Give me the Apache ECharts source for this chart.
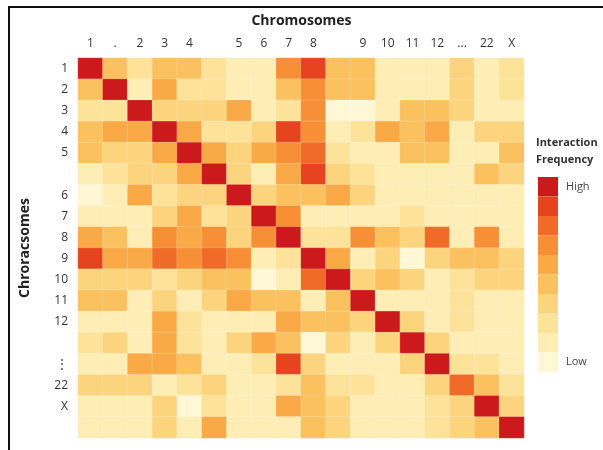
<!DOCTYPE html>
<html><head><meta charset="utf-8">
<script src="https://cdn.jsdelivr.net/npm/echarts@6/dist/echarts.min.js"></script>
<style>html,body{margin:0;padding:0;background:#fff}#c{width:603px;height:450px}</style>
</head><body><div id="c"></div>
<script>
// Tick labels (one entry per heatmap cell; blank = no label)
const xLabels = ['1','.','2','3','4','','5','6','7','8','','9','10','11','12','...','22','X'];
const yLabels = ['1','2','3','4','5','','6','7','8','9','10','11','12','','⋮','22','X',''];

// Interaction frequency (0-100), one array per row
const r01 = [95,45,25,45,45,25,15,15,65,85,45,45,15,15,15,35,15,25];
const r02 = [45,95,15,55,25,25,15,15,45,65,45,45,15,15,15,35,15,25];
const r03 = [25,25,95,35,35,35,55,15,25,65, 5, 5,15,45,45,35,15,15];
const r04 = [45,55,55,95,55,25,25,35,85,65,15,25,55,45,55,15,35,35];
const r05 = [45,35,35,55,95,55,35,55,65,75,25,15,15,45,45,15,15,45];
const r06 = [15,25,35,35,55,95,35,15,55,85,35,25,15,15,15,15,45,35];
const r07 = [ 5,15,55,25,35,35,95,35,45,45,55,35,15,15,15,15,15,15];
const r08 = [15,15,15,35,55,25,35,95,65,15,15,15,15,25,15,15,15,15];
const r09 = [55,45,15,65,55,65,35,65,95,25,25,65,45,35,75,15,65,15];
const r10 = [85,55,55,75,65,75,65,15,25,95,55,15,35, 5,35,45,45,35];
const r11 = [35,35,35,25,35,45,45, 5,15,75,95,35,45,35,15,25,35,35];
const r12 = [45,45,15,35,15,35,55,45,45,15,45,95,15,15,15,25,15,15];
const r13 = [15,15,15,55,25,15,15,15,55,45,45,35,95,35,15,25,15,15];
const r14 = [25,35,15,55,25,15,35,55,45, 5,35,15,35,95,35,15,15,15];
const r15 = [15,15,55,55,45,15,15,25,85,35,15,15,15,35,95,25,25,15];
const r16 = [35,35,35,15,25,35,15,15,25,45,25,25,15,15,35,75,45,25];
const r17 = [15,15,15,35, 5,25,15,15,55,45,35,15,15,15,25,35,95,35];
const r18 = [15,15,15,35,15,55,15,15,15,45,35,15,15,15,25,35,45,95];
const rows = [r01,r02,r03,r04,r05,r06,r07,r08,r09,r10,r11,r12,r13,r14,r15,r16,r17,r18];

const palette = ['#fff7d6','#feedb4','#fde29a','#fdd47e','#fcc15f','#faa947','#f78f37','#f06b28','#e5441f','#cc191c'];

const data = [];
rows.forEach((row, r) => row.forEach((v, c) => data.push([c, r, v])));

const font = 'Open Sans, Liberation Sans, Arial, sans-serif';
const chart = echarts.init(document.getElementById('c'));
chart.setOption({
  animation: false,
  textStyle: {fontFamily: font},
  title: [
    {text: 'Chromosomes', left: 'center', top: 9,
     textStyle: {fontSize: 14, fontWeight: 'bold', color: '#222', fontFamily: font}},
    {text: 'Interaction\nFrequency', left: 536, top: 134, padding: 0,
     textStyle: {fontSize: 11, fontWeight: 'bold', color: '#333', lineHeight: 17, fontFamily: font}}
  ],
  grid: {left: 78, top: 58, width: 446, height: 380},
  xAxis: {
    type: 'category', data: xLabels, position: 'top',
    axisLine: {show: false}, axisTick: {show: false}, splitLine: {show: false},
    axisLabel: {interval: 0, margin: 8, fontSize: 12, color: '#333'}
  },
  yAxis: {
    type: 'category', data: yLabels, inverse: true,
    name: 'Chroracsomes', nameLocation: 'middle', nameRotate: 90, nameGap: 46,
    nameTextStyle: {fontSize: 14, fontWeight: 'bold', color: '#222'},
    axisLine: {show: false}, axisTick: {show: false}, splitLine: {show: false},
    axisLabel: {interval: 0, margin: 10, fontSize: 12, color: '#333'}
  },
  visualMap: {
    type: 'piecewise', min: 0, max: 100, splitNumber: 10,
    orient: 'vertical', left: 538, top: 177, padding: 0,
    itemWidth: 20, itemHeight: 19.5, itemGap: 0, itemSymbol: 'rect',
    align: 'left', textGap: 8, selectedMode: false, hoverLink: false,
    inRange: {color: palette},
    formatter: function (a, b) { return b >= 100 ? 'High' : (a <= 0 ? 'Low' : ''); },
    textStyle: {fontSize: 11, color: '#444'}
  },
  graphic: [{
    type: 'polyline', silent: true,
    shape: {points: [[9, 452], [9, 7], [605, 7]]},
    style: {stroke: '#111', lineWidth: 2, fill: null}
  }],
  series: [{
    type: 'heatmap', data: data,
    itemStyle: {borderColor: 'rgba(255,255,255,0.3)', borderWidth: 0.6},
    emphasis: {disabled: true}
  }]
});
</script></body></html>
